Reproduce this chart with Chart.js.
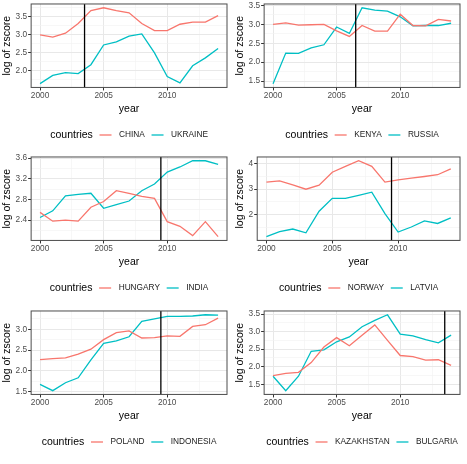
<!DOCTYPE html>
<html>
<head>
<meta charset="utf-8">
<script src="https://cdn.jsdelivr.net/npm/chart.js@4.4.1/dist/chart.umd.min.js"></script>
<style>
  html, body { margin: 0; padding: 0; background: #fff; }
  #wrap { position: relative; width: 467px; height: 464px; overflow: hidden; }
  .panel { position: absolute; width: 234px; height: 157px; }
</style>
</head>
<body>
<div id="wrap">
  <div class="panel" style="left:0;top:-2px"><canvas id="p0"></canvas></div>
  <div class="panel" style="left:233px;top:-2px"><canvas id="p1"></canvas></div>
  <div class="panel" style="left:0;top:151px"><canvas id="p2"></canvas></div>
  <div class="panel" style="left:233px;top:151px"><canvas id="p3"></canvas></div>
  <div class="panel" style="left:0;top:305px"><canvas id="p4"></canvas></div>
  <div class="panel" style="left:233px;top:305px"><canvas id="p5"></canvas></div>
</div>
<script>
// years on the x axis
const years = [2000, 2001, 2002, 2003, 2004, 2005, 2006, 2007, 2008, 2009, 2010, 2011, 2012, 2013, 2014];

// log of zscore, one array per country
const china      = [2.99, 2.93, 3.04, 3.31, 3.67, 3.75, 3.67, 3.61, 3.31, 3.11, 3.11, 3.29, 3.35, 3.35, 3.53];
const ukraine    = [1.63, 1.86, 1.94, 1.91, 2.16, 2.71, 2.80, 2.96, 3.02, 2.49, 1.83, 1.65, 2.13, 2.35, 2.61];
const kenya      = [3.00, 3.04, 2.98, 2.99, 3.00, 2.83, 2.68, 2.97, 2.82, 2.82, 3.27, 2.97, 2.96, 3.13, 3.09];
const russia     = [1.43, 2.24, 2.23, 2.38, 2.46, 2.93, 2.76, 3.44, 3.38, 3.35, 3.20, 2.96, 2.97, 2.97, 3.03];
const hungary    = [2.55, 2.38, 2.40, 2.38, 2.65, 2.76, 2.97, 2.92, 2.86, 2.82, 2.37, 2.28, 2.10, 2.37, 2.08];
const india      = [2.45, 2.58, 2.87, 2.90, 2.92, 2.63, 2.70, 2.77, 2.97, 3.10, 3.33, 3.43, 3.55, 3.55, 3.48];
const norway     = [3.28, 3.33, 3.17, 3.00, 3.16, 3.67, 3.90, 4.12, 3.90, 3.28, 3.37, 3.44, 3.50, 3.57, 3.80];
const latvia     = [1.13, 1.33, 1.43, 1.28, 2.13, 2.64, 2.64, 2.76, 2.88, 2.04, 1.31, 1.51, 1.75, 1.65, 1.87];
const poland     = [2.27, 2.29, 2.31, 2.40, 2.52, 2.75, 2.92, 2.96, 2.79, 2.80, 2.84, 2.83, 3.07, 3.11, 3.27];
const indonesia  = [1.67, 1.52, 1.71, 1.83, 2.26, 2.66, 2.72, 2.82, 3.19, 3.25, 3.31, 3.31, 3.32, 3.35, 3.34];
const kazakhstan = [1.75, 1.81, 1.84, 2.12, 2.56, 2.83, 2.60, 2.90, 3.19, 2.75, 2.32, 2.29, 2.19, 2.20, 2.04];
const bulgaria   = [1.73, 1.32, 1.73, 2.44, 2.48, 2.71, 2.85, 3.14, 3.32, 3.48, 2.93, 2.88, 2.77, 2.68, 2.90];

// panel pairs and the year of the vertical break line
const panelNames  = [['CHINA', 'UKRAINE'], ['KENYA', 'RUSSIA'], ['HUNGARY', 'INDIA'],
                     ['NORWAY', 'LATVIA'], ['POLAND', 'INDONESIA'], ['KAZAKHSTAN', 'BULGARIA']];
const panelSeries = [[china, ukraine], [kenya, russia], [hungary, india],
                     [norway, latvia], [poland, indonesia], [kazakhstan, bulgaria]];
const breakYears  = [2003.5, 2006.5, 2009.5, 2009.5, 2009.5, 2013.5];

// tick labels
const xTickLabels = ['2000', '2005', '2010'];
const yTickLabels = [
    ['1.5', '2.0', '2.5', '3.0', '3.5'],
    ['1.5', '2.0', '2.5', '3.0', '3.5'],
    ['2.0', '2.4', '2.8', '3.2', '3.6'],
    ['2', '3', '4'],
    ['1.5', '2.0', '2.5', '3.0'],
    ['1.5', '2.0', '2.5', '3.0', '3.5']
];

const colA = '#F8766D';
const colB = '#00BFC4';
const FONT = '"Liberation Sans", Arial, Helvetica, sans-serif';
Chart.defaults.font.family = FONT;

// major + midpoint breaks, extended one step each side, kept inside the range
function withMinor(major, lo, hi) {
    const step = major[1] - major[0];
    const ext = [major[0] - step, ...major, major[major.length - 1] + step];
    const out = [];
    for (let i = 0; i < ext.length; i++) {
        out.push(ext[i]);
        if (i < ext.length - 1) out.push((ext[i] + ext[i + 1]) / 2);
    }
    return out.map(v => Math.round(v * 1000) / 1000).filter(v => v >= lo && v <= hi);
}

const frame = {
    id: 'frame',
    afterDatasetsDraw(chart, args, opts) {
        const { ctx, chartArea: a } = chart;
        const x = chart.scales.x.getPixelForValue(opts.breakYear);
        ctx.save();
        ctx.strokeStyle = '#000';
        ctx.lineWidth = 1.3;
        ctx.beginPath();
        ctx.moveTo(x, a.top);
        ctx.lineTo(x, a.bottom);
        ctx.stroke();
        ctx.strokeStyle = '#4d4d4d';
        ctx.lineWidth = 1;
        ctx.strokeRect(a.left, a.top, a.right - a.left, a.bottom - a.top);
        ctx.restore();
    }
};

const bottomLegend = {
    id: 'bottomLegend',
    afterDraw(chart) {
        const { ctx, chartArea: a } = chart;
        const y = chart.height - 20;
        ctx.save();
        ctx.textBaseline = 'middle';
        ctx.textAlign = 'left';
        ctx.font = '10.5px ' + FONT;
        const titleW = ctx.measureText('countries').width;
        ctx.font = '8.3px ' + FONT;
        const items = chart.data.datasets.map(ds => ({
            label: ds.label, color: ds.borderColor, w: ctx.measureText(ds.label).width
        }));
        const keyW = 12, gapBefore = 6.7, gapAfter = 7.5;
        let total = titleW;
        items.forEach(it => { total += gapBefore + keyW + gapAfter + it.w; });
        let x = (a.left + a.right) / 2 - total / 2;
        ctx.fillStyle = '#000';
        ctx.font = '10.5px ' + FONT;
        ctx.fillText('countries', x, y);
        x += titleW;
        ctx.font = '8.3px ' + FONT;
        items.forEach(it => {
            x += gapBefore;
            ctx.strokeStyle = it.color;
            ctx.lineWidth = 1.3;
            ctx.beginPath();
            ctx.moveTo(x, y);
            ctx.lineTo(x + keyW, y);
            ctx.stroke();
            x += keyW + gapAfter;
            ctx.fillStyle = '#1a1a1a';
            ctx.fillText(it.label, x, y);
            x += it.w;
        });
        ctx.restore();
    }
};

function initPanel(i) {
    const [a, b] = panelSeries[i];
    const all = a.concat(b);
    const lo = Math.min(...all), hi = Math.max(...all);
    const pad = (hi - lo) * 0.05;
    const yMin = lo - pad, yMax = hi + pad;
    const yMajor = yTickLabels[i].map(Number);
    const yAll = withMinor(yMajor, yMin, yMax);
    const xMin = years[0] - 0.7, xMax = years[years.length - 1] + 0.7;
    const xMajor = xTickLabels.map(Number);
    const xAll = withMinor(xMajor, xMin, xMax);
    const isMajor = (list, v) => list.some(m => Math.abs(m - v) < 1e-6);

    const axisGrid = list => ({
        color: c => isMajor(list, c.tick.value) ? '#E8E8E8' : '#F2F2F2',
        lineWidth: c => isMajor(list, c.tick.value) ? 1 : 0.6,
        tickColor: c => isMajor(list, c.tick.value) ? '#333' : 'rgba(0,0,0,0)',
        tickLength: 3,
        tickWidth: 1
    });

    return new Chart(document.getElementById('p' + i), {
        type: 'line',
        data: {
            datasets: [
                { label: panelNames[i][0], data: years.map((yr, k) => ({ x: yr, y: a[k] })),
                  borderColor: colA, borderWidth: 1.3, pointRadius: 0, tension: 0 },
                { label: panelNames[i][1], data: years.map((yr, k) => ({ x: yr, y: b[k] })),
                  borderColor: colB, borderWidth: 1.3, pointRadius: 0, tension: 0 }
            ]
        },
        options: {
            animation: false,
            responsive: true,
            maintainAspectRatio: false,
            layout: { padding: { top: 0, right: 7, left: 1, bottom: 40 } },
            plugins: {
                legend: { display: false },
                tooltip: { enabled: false },
                frame: { breakYear: breakYears[i] }
            },
            scales: {
                x: {
                    type: 'linear',
                    min: xMin,
                    max: xMax,
                    afterBuildTicks: ax => { ax.ticks = xAll.map(v => ({ value: v })); },
                    ticks: {
                        autoSkip: false, maxRotation: 0, padding: 0,
                        color: '#4D4D4D', font: { size: 8.3 },
                        callback: v => isMajor(xMajor, v) ? String(Math.round(v)) : ''
                    },
                    grid: axisGrid(xMajor),
                    border: { display: false },
                    title: { display: true, text: 'year', color: '#000',
                             font: { size: 10.5 }, padding: { top: 2, bottom: 0 } }
                },
                y: {
                    type: 'linear',
                    min: yMin,
                    max: yMax,
                    afterBuildTicks: ax => { ax.ticks = yAll.map(v => ({ value: v })); },
                    ticks: {
                        autoSkip: false, padding: 1,
                        color: '#4D4D4D', font: { size: 8.3 },
                        callback: v => {
                            const k = yMajor.findIndex(m => Math.abs(m - v) < 1e-6);
                            return k >= 0 ? yTickLabels[i][k] : '';
                        }
                    },
                    grid: axisGrid(yMajor),
                    border: { display: false },
                    title: { display: true, text: 'log of zscore', color: '#000',
                             font: { size: 10.5 }, padding: { top: 0, bottom: 1 } }
                }
            }
        },
        plugins: [frame, bottomLegend]
    });
}

for (let i = 0; i < 6; i++) initPanel(i);
</script>
</body>
</html>
